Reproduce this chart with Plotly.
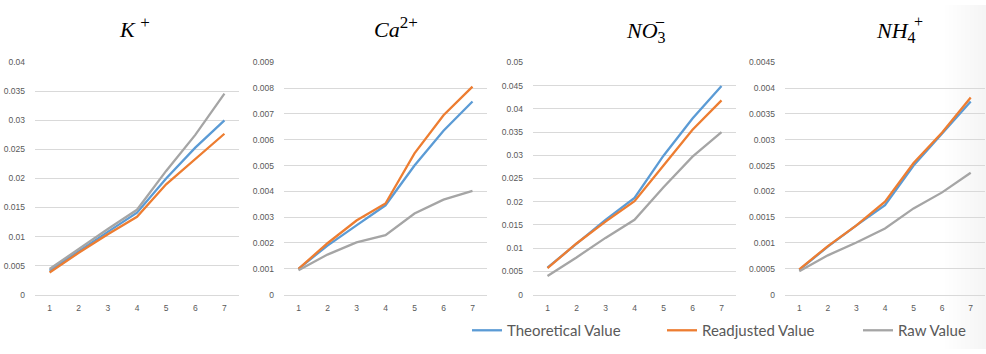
import plotly.graph_objects as go

W, H = 986, 354

# ---------------- data ----------------
x_labels = [1, 2, 3, 4, 5, 6, 7]
series_names = ["Theoretical Value", "Readjusted Value", "Raw Value"]

k_theoretical = [0.0041, 0.0075, 0.0108, 0.0141, 0.0200, 0.0253, 0.0300]
k_readjusted = [0.0038, 0.0072, 0.0104, 0.0134, 0.0190, 0.0234, 0.0277]
k_raw = [0.0044, 0.0079, 0.0113, 0.0146, 0.0213, 0.0275, 0.0346]

ca_theoretical = [0.00100, 0.00190, 0.00268, 0.00346, 0.00500, 0.00635, 0.00748]
ca_readjusted = [0.00100, 0.00199, 0.00287, 0.00353, 0.00547, 0.00695, 0.00806]
ca_raw = [0.00094, 0.00155, 0.00202, 0.00230, 0.00314, 0.00368, 0.00402]

no3_theoretical = [0.0058, 0.0110, 0.0161, 0.0208, 0.0299, 0.0379, 0.0449]
no3_readjusted = [0.0057, 0.0110, 0.0157, 0.0201, 0.0278, 0.0355, 0.0418]
no3_raw = [0.0040, 0.0080, 0.0122, 0.0161, 0.0231, 0.0297, 0.0350]

nh4_theoretical = [0.00048, 0.00093, 0.00134, 0.00173, 0.00250, 0.00313, 0.00374]
nh4_readjusted = [0.00049, 0.00094, 0.00134, 0.00180, 0.00255, 0.00314, 0.00382]
nh4_raw = [0.00045, 0.00076, 0.00101, 0.00128, 0.00167, 0.00198, 0.00236]

panels = [
    [k_theoretical, k_readjusted, k_raw],
    [ca_theoretical, ca_readjusted, ca_raw],
    [no3_theoretical, no3_readjusted, no3_raw],
    [nh4_theoretical, nh4_readjusted, nh4_raw],
]
y_max = [0.04, 0.009, 0.05, 0.0045]
y_step = [0.005, 0.001, 0.005, 0.0005]

# ---------------- style ----------------
colors = ["#5B9BD5", "#ED7D31", "#A5A5A5"]
grid_color = "#D9D9D9"
tick_color = "#595959"
x_dom_px = [(35, 239), (284, 487), (533, 736), (785, 985)]
y_dom = [1 - 298 / H, 1 - 59 / H]
legend_x_px = [467, 662, 858]
legend_ids = ["legend", "legend2", "legend3"]


def px(x):
    return x / W


def py(y):
    return 1 - y / H


fig = go.Figure()
layout = dict(
    width=W, height=H,
    margin=dict(l=0, r=0, t=0, b=0),
    paper_bgcolor="white",
    plot_bgcolor="rgba(0,0,0,0)",
    showlegend=True,
)

for i, data in enumerate(panels):
    n = "" if i == 0 else str(i + 1)
    for j, vals in enumerate(data):
        fig.add_trace(go.Scatter(
            x=x_labels, y=vals, mode="lines",
            name=series_names[j], legendgroup=series_names[j],
            legend=legend_ids[j],
            showlegend=(i == 0),
            line=dict(color=colors[j], width=2.3),
            xaxis="x" + n, yaxis="y" + n,
        ))
    layout["xaxis" + n] = dict(
        domain=[px(x_dom_px[i][0]), px(x_dom_px[i][1])],
        anchor="y" + n,
        range=[0.5, 7.5],
        tickmode="array", tickvals=x_labels, ticktext=[str(v) for v in x_labels],
        showgrid=False, zeroline=False,
        showline=True, linecolor=grid_color, linewidth=1,
        ticks="outside", ticklen=5, tickcolor="rgba(0,0,0,0)",
        tickfont=dict(family="Liberation Sans", size=8.5, color=tick_color),
        fixedrange=True,
    )
    layout["yaxis" + n] = dict(
        domain=y_dom,
        anchor="x" + n,
        range=[0, y_max[i]],
        dtick=y_step[i], tick0=0,
        showgrid=True, gridcolor=grid_color, gridwidth=1,
        zeroline=False, showline=False,
        ticks="", ticklabelstandoff=9,
        exponentformat="none",
        tickfont=dict(family="Liberation Sans", size=8.5, color=tick_color),
        fixedrange=True,
    )

for j, lid in enumerate(legend_ids):
    layout[lid] = dict(
        orientation="h",
        x=px(legend_x_px[j]), xanchor="left",
        y=py(335), yanchor="middle",
        font=dict(family="Lato", size=15, color=tick_color),
        bgcolor="rgba(0,0,0,0)",
    )

title_font = dict(family="Liberation Serif", size=22, color="black")
small_font = dict(family="Liberation Serif", size=16, color="black")
annotations = [
    dict(text="<i>K</i> <sup><span style='font-size:17px'>+</span></sup>", x=px(117), y=py(23)),
    dict(text="<i>Ca</i><sup><span style='font-size:17px'>2+</span></sup>", x=px(372), y=py(23)),
    dict(text="<i>NO</i><sub><span style='font-size:16px'>3</span></sub>", x=px(624), y=py(28)),
    dict(text="<i>NH</i><sub><span style='font-size:16px'>4</span></sub>", x=px(874), y=py(28)),
]
ann_list = []
for a in annotations:
    ann_list.append(dict(text=a["text"], x=a["x"], y=a["y"], xref="paper", yref="paper",
                         xanchor="left", yanchor="middle", showarrow=False, font=title_font))
# stacked superscripts above the subscripts
ann_list.append(dict(text="\u2012", x=px(660), y=py(16), xref="paper", yref="paper",
                     xanchor="center", yanchor="middle", showarrow=False, font=small_font))
ann_list.append(dict(text="+", x=px(918), y=py(17), xref="paper", yref="paper",
                     xanchor="center", yanchor="middle", showarrow=False, font=small_font))
layout["annotations"] = ann_list

# faint shading at right edge
shapes = []
n_strips = 10
for s in range(n_strips):
    x0 = 945 + s * (W - 945) / n_strips
    shapes.append(dict(type="rect", xref="paper", yref="paper",
                       x0=px(x0), x1=1, y0=0, y1=1,
                       fillcolor="rgba(120,120,120,0.007)", line=dict(width=0),
                       layer="below"))
layout["shapes"] = shapes

fig.update_layout(**layout)
fig.write_html("out.html")
